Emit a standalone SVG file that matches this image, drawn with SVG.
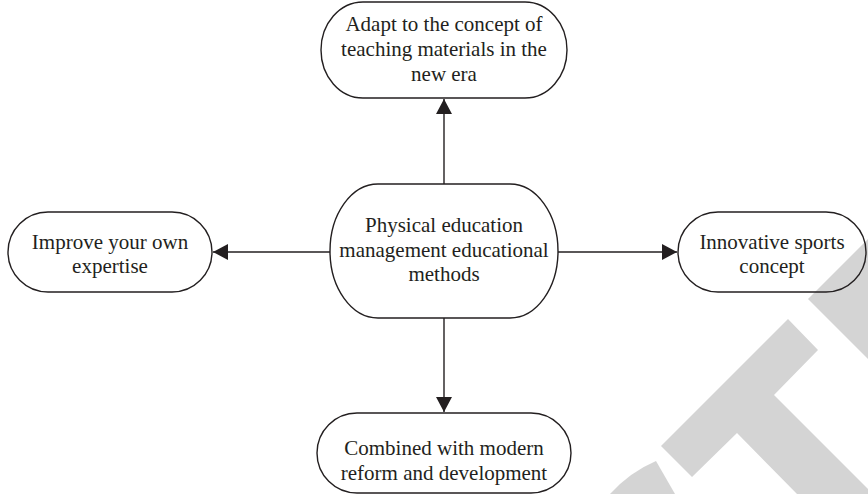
<svg xmlns="http://www.w3.org/2000/svg" width="868" height="494" viewBox="0 0 868 494">
  <style>
    .node { fill: none; stroke: #231f20; stroke-width: 1.4; }
    .lbl { font-family: 'Liberation Serif', 'Times New Roman', serif; font-size: 21px; fill: #231f20; text-anchor: middle; }
    .edge { stroke: #231f20; stroke-width: 1.4; fill: none; marker-end: url(#arrow); }
    .wm { fill: #d4d4d4; stroke: none; }
  </style>
  <defs>
    <marker id="arrow" markerUnits="userSpaceOnUse" markerWidth="16" markerHeight="16" refX="15" refY="8" orient="auto">
      <path d="M0,0 L15,8 L0,16 Z" fill="#231f20"/>
    </marker>
  </defs>
  <rect width="868" height="494" fill="#ffffff"/>

  <g id="watermark">
    <polygon class="wm" points="808,299 868,239 868,359"/>
    <polygon class="wm" points="788,319 818,350 774,395 868,489 868,494 797,494 737,433 692,477 661,446"/>
    <path class="wm" d="M656,461 L675,494 L610,494 Q630,472 656,461 Z"/>
  </g>

  <g id="connectors">
    <line class="edge" x1="444" y1="184" x2="444" y2="99"/>
    <line class="edge" x1="444" y1="318" x2="444" y2="412"/>
    <line class="edge" x1="330" y1="252" x2="213" y2="252"/>
    <line class="edge" x1="558" y1="252" x2="677" y2="252"/>
  </g>

  <g id="center">
    <rect class="node" x="330" y="184" width="228" height="134" rx="48" ry="67"/>
    <text class="lbl" x="444" y="232">Physical education</text>
    <text class="lbl" x="444" y="256.5">management educational</text>
    <text class="lbl" x="444" y="281">methods</text>
  </g>

  <g id="top">
    <rect class="node" x="321" y="2" width="246" height="96" rx="42" ry="48"/>
    <text class="lbl" x="444" y="31">Adapt to the concept of</text>
    <text class="lbl" x="444" y="56">teaching materials in the</text>
    <text class="lbl" x="444" y="81">new era</text>
  </g>

  <g id="left">
    <rect class="node" x="8" y="212" width="204" height="80" rx="40" ry="40"/>
    <text class="lbl" x="110" y="249">Improve your own</text>
    <text class="lbl" x="110" y="273">expertise</text>
  </g>

  <g id="right">
    <rect class="node" x="678" y="212" width="188" height="80" rx="40" ry="40"/>
    <text class="lbl" x="772" y="249">Innovative sports</text>
    <text class="lbl" x="772" y="273">concept</text>
  </g>

  <g id="bottom">
    <rect class="node" x="317" y="413" width="254" height="80" rx="40" ry="40"/>
    <text class="lbl" x="444" y="455">Combined with modern</text>
    <text class="lbl" x="444" y="480">reform and development</text>
  </g>
</svg>
